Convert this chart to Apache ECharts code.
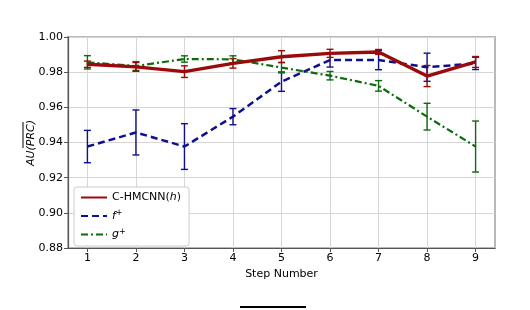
<!DOCTYPE html>
<html><head><meta charset="utf-8">
<script src="https://cdn.jsdelivr.net/npm/echarts@6/dist/echarts.min.js"></script>
<style>html,body{margin:0;padding:0;background:#fff}#c{width:530px;height:310px}</style>
</head><body><div id="c"></div>
<script>
const steps = [1,2,3,4,5,6,7,8,9];
const yTicks = [0.88,0.90,0.92,0.94,0.96,0.98,1.00];
const chmcnnMean = [0.9845,0.9830,0.9803,0.9850,0.9888,0.9907,0.9915,0.9778,0.9858];
const chmcnnErr  = [0.0018,0.0025,0.0033,0.0027,0.0034,0.0023,0.0014,0.0060,0.0031];
const fMean = [0.9377,0.9457,0.9377,0.9547,0.9746,0.9869,0.9869,0.9828,0.9850];
const fErr  = [0.0092,0.0128,0.0130,0.0046,0.0055,0.0040,0.0055,0.0080,0.0035];
const gMean = [0.9856,0.9835,0.9875,0.9873,0.9826,0.9780,0.9722,0.9547,0.9377];
const gErr  = [0.0038,0.0025,0.0018,0.0020,0.0030,0.0024,0.0030,0.0076,0.0145];

const RED='#9b0a0a', BLUE='#10108f', GREEN='#0d6b0d';
const FONT='DejaVu Sans';

function pts(mean){ return steps.map((s,i)=>[s,mean[i]]); }
function errData(mean,err){ return steps.map((s,i)=>[s,mean[i]-err[i],mean[i]+err[i]]); }
function errSeries(name,mean,err,color){
  return {
    type:'custom', name:name, data:errData(mean,err), z:3,
    renderItem:function(params,api){
      const x=api.value(0), lo=api.value(1), hi=api.value(2);
      const p1=api.coord([x,lo]), p2=api.coord([x,hi]);
      const cap=3.5;
      const st={stroke:color,lineWidth:1.4};
      return {type:'group',children:[
        {type:'line',shape:{x1:p1[0],y1:p1[1],x2:p2[0],y2:p2[1]},style:st},
        {type:'line',shape:{x1:p1[0]-cap,y1:p1[1],x2:p1[0]+cap,y2:p1[1]},style:st},
        {type:'line',shape:{x1:p2[0]-cap,y1:p2[1],x2:p2[0]+cap,y2:p2[1]},style:st}
      ]};
    }
  };
}

const chart = echarts.init(document.getElementById('c'),null,{renderer:'canvas'});
chart.setOption({
  animation:false,
  backgroundColor:'#fff',
  grid:{left:68,right:35,top:37,bottom:62,show:true,borderColor:'#b8b8b8',borderWidth:2,backgroundColor:'transparent'},
  xAxis:{
    type:'value', min:0.6, max:9.4,
    name:'Step Number', nameLocation:'middle', nameGap:16,
    nameTextStyle:{fontFamily:FONT,fontSize:11,color:'#000'},
    axisLine:{show:true,onZero:false,lineStyle:{color:'#555',width:1.2}},
    axisTick:{show:true,customValues:steps,length:4,lineStyle:{color:'#555'}},
    axisLabel:{customValues:steps,fontFamily:FONT,fontSize:11,color:'#000',margin:5},
    splitLine:{show:true,customValues:steps,lineStyle:{color:'#d6d6d6',width:1}}
  },
  yAxis:{
    type:'value', min:0.88, max:1.00, interval:0.02,
    axisLine:{show:true,lineStyle:{color:'#555',width:1.2}},
    axisTick:{show:true,length:4,lineStyle:{color:'#555'}},
    axisLabel:{fontFamily:FONT,fontSize:11,color:'#000',margin:5,formatter:v=>v.toFixed(2)},
    splitLine:{show:true,lineStyle:{color:'#d6d6d6',width:1}}
  },
  legend:{
    show:true, orient:'vertical', left:74, top:187,
    data:['C-HMCNN(h)','f+','g+'],
    backgroundColor:'#fff', borderColor:'#cccccc', borderWidth:1, borderRadius:3,
    padding:[5,8,6,6], itemGap:6, itemWidth:26, itemHeight:12,
    itemStyle:{opacity:0},
    textStyle:{fontFamily:FONT,fontSize:11,color:'#000',
      rich:{i:{fontFamily:FONT,fontStyle:'italic',fontSize:11},
            sup:{fontFamily:FONT,fontSize:8,verticalAlign:'top',padding:[0,0,6,0]}}},
    formatter:function(n){
      if(n==='C-HMCNN(h)') return 'C-HMCNN({i|h})';
      if(n==='f+') return '{i|f}{sup|+}';
      return '{i|g}{sup|+}';
    }
  },
  series:[
    errSeries('errF',fMean,fErr,BLUE),
    errSeries('errG',gMean,gErr,GREEN),
    errSeries('errC',chmcnnMean,chmcnnErr,RED),
    {type:'line',name:'f+',data:pts(fMean),symbol:'none',z:4,
     lineStyle:{color:BLUE,width:2.5,type:[7,4]},itemStyle:{color:BLUE}},
    {type:'line',name:'g+',data:pts(gMean),symbol:'none',z:4,
     lineStyle:{color:GREEN,width:2.2,type:[7,3,2,3]},itemStyle:{color:GREEN}},
    {type:'line',name:'C-HMCNN(h)',data:pts(chmcnnMean),symbol:'none',z:5,
     lineStyle:{color:RED,width:3.4},itemStyle:{color:RED}}
  ],
  graphic:[
    {type:'group',x:31,y:143,rotation:Math.PI/2,children:[
      {type:'text',style:{text:'AU(PRC)',fontFamily:FONT,fontStyle:'italic',fontSize:11,fill:'#000',
        align:'center',verticalAlign:'middle'},x:0,y:0},
      {type:'line',shape:{x1:-5,y1:-8,x2:21,y2:-8},style:{stroke:'#000',lineWidth:1}}
    ]},
    {type:'line',shape:{x1:240,y1:307,x2:306,y2:307},style:{stroke:'#000',lineWidth:2}}
  ]
});
</script></body></html>
